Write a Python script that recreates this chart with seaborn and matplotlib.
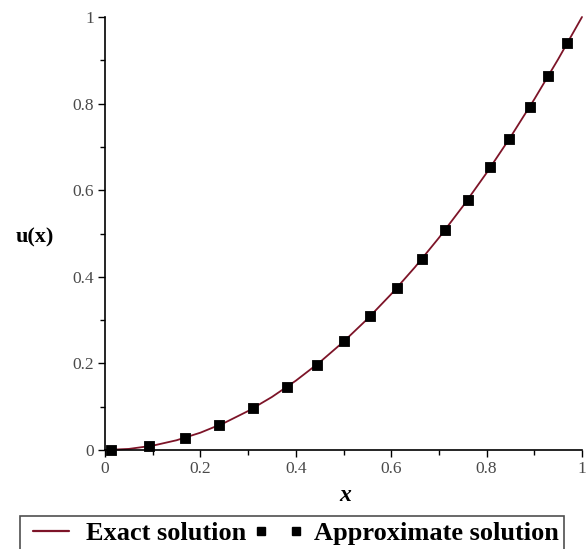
import numpy as np
import pandas as pd
import matplotlib
matplotlib.use("Agg")
import matplotlib.pyplot as plt
from matplotlib.lines import Line2D
import seaborn as sns

# exact solution curve
exact_x = [0.0, 0.05, 0.1, 0.15, 0.2, 0.25, 0.3, 0.35, 0.4, 0.45, 0.5,
           0.55, 0.6, 0.65, 0.7, 0.75, 0.8, 0.85, 0.9, 0.95, 1.0]
exact_u = [0.0, 0.0025, 0.01, 0.0225, 0.04, 0.0625, 0.09, 0.1225, 0.16, 0.2025, 0.25,
           0.3025, 0.36, 0.4225, 0.49, 0.5625, 0.64, 0.7225, 0.81, 0.9025, 1.0]

# approximate solution points
approx_x = [0.012, 0.092, 0.167, 0.240, 0.310, 0.381, 0.444, 0.502, 0.556,
            0.612, 0.665, 0.712, 0.760, 0.808, 0.848, 0.890, 0.929, 0.969]
approx_u = [0.0002, 0.0085, 0.028, 0.058, 0.096, 0.145, 0.197, 0.252, 0.309,
            0.375, 0.442, 0.507, 0.578, 0.653, 0.719, 0.792, 0.863, 0.939]

ticks = [0, 0.2, 0.4, 0.6, 0.8, 1]
tick_labels = ["0", "0.2", "0.4", "0.6", "0.8", "1"]
minor_ticks = [0.1, 0.3, 0.5, 0.7, 0.9]

exact = pd.DataFrame({"x": exact_x, "u": exact_u})
approx = pd.DataFrame({"x": approx_x, "u": approx_u})

sns.set_theme(style="ticks")
plt.rcParams["font.family"] = ["Liberation Serif", "DejaVu Serif"]

line_col = "#7d1428"

fig = plt.figure(figsize=(5.86, 5.49), dpi=100)
ax = fig.add_axes([105 / 586, 1 - 450 / 549, 477 / 586, 433 / 549])

sns.lineplot(data=exact, x="x", y="u", ax=ax, color=line_col, linewidth=1.3,
             zorder=2)
sns.scatterplot(data=approx, x="x", y="u", ax=ax, color="black", marker="s",
                s=50, edgecolor="black", linewidth=0.6, zorder=3)

ax.set_xlim(0, 1)
ax.set_ylim(0, 1)
ax.set_xticks(ticks)
ax.set_xticklabels(tick_labels)
ax.set_yticks(ticks)
ax.set_yticklabels(tick_labels)
ax.set_xticks(minor_ticks, minor=True)
ax.set_yticks(minor_ticks, minor=True)
ax.tick_params(axis="both", which="major", labelsize=12.5, labelcolor="#4a4a4a",
               length=5, width=1, color="black", pad=3)
ax.tick_params(axis="both", which="minor", length=3.5, width=1, color="black")
sns.despine(ax=ax)
for sp in ["left", "bottom"]:
    ax.spines[sp].set_color("black")
    ax.spines[sp].set_linewidth(1.2)
for line in ax.get_lines():
    line.set_clip_on(False)
for coll in ax.collections:
    coll.set_clip_on(False)

ax.set_xlabel("x", fontsize=17, fontweight="bold", style="italic", color="black")
ax.xaxis.set_label_coords(0.503, -0.104)
ax.xaxis.label.set_va("center")
ax.set_ylabel("u(x)", fontsize=16, fontweight="bold", rotation=0, color="black")
ax.yaxis.set_label_coords(-0.148, 0.49)
ax.yaxis.label.set_va("center")
ax.yaxis.label.set_ha("center")

handles = [
    Line2D([], [], color=line_col, linewidth=1.6),
    Line2D([], [], color="black", marker="s", markersize=6, linestyle="none"),
]
labels = ["Exact solution", "Approximate solution"]
leg = fig.legend(handles, labels, loc="upper left", bbox_to_anchor=(20 / 586, 1 - 516 / 549),
                 ncol=2, frameon=True, fancybox=False, edgecolor="#222222",
                 prop={"weight": "bold", "size": 19}, handlelength=1.95,
                 handletextpad=0.35, columnspacing=0.25, borderpad=0.2,
                 numpoints=2, markerscale=1.0, borderaxespad=0.0,
                 labelcolor="black")
leg.get_frame().set_linewidth(1.2)

fig.savefig("out.png", dpi=100)
